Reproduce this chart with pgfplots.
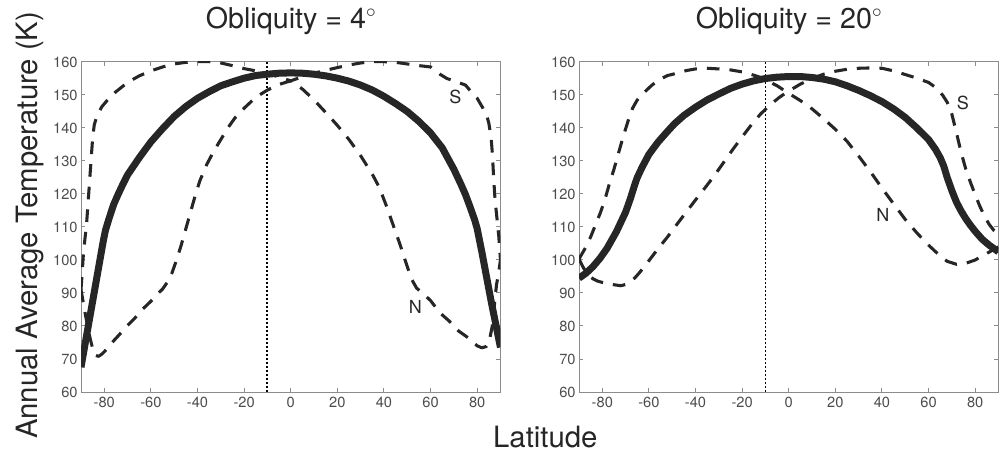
\documentclass[border=0pt]{standalone}
\usepackage{fontspec}
\setmainfont{TeX Gyre Heros}
\usepackage{pgfplots}
\pgfplotsset{compat=1.18}
\definecolor{curve}{HTML}{262626}
\definecolor{axgray}{HTML}{8C8C8C}
\definecolor{tickgray}{HTML}{4D4D4D}
\newcommand{\dg}{\raisebox{0.75ex}{$\scriptstyle\circ$}}
\tikzset{lab/.style={font=\fontsize{13.5}{16}\selectfont, text=curve}}
\pgfplotsset{
 panel/.style={
  scale only axis, width=314.6pt, height=247.5pt,
  xmin=-90, xmax=90, ymin=60, ymax=160,
  xtick={-80,-60,...,80}, ytick={60,70,...,160},
  tick align=inside, major tick length=3pt,
  axis line style={axgray, line width=0.75pt},
  tick style={axgray, line width=0.75pt},
  tick label style={font=\fontsize{11}{13}\selectfont, text=tickgray},
  yticklabel style={xshift=1pt},
  /pgf/number format/assume math mode=true,
  title style={font=\fontsize{21.5}{24}\selectfont, at={(0.5,1)}, anchor=base, yshift=18.75pt, text=curve},
  anchor=south west,
 },
 solidc/.style={curve, line width=5.25pt, line join=round},
 dashc/.style={curve, line width=2.3pt, dash pattern=on 9.5pt off 7.5pt, line join=round},
 dotc/.style={black, line width=1.4pt, dash pattern=on 1.5pt off 1.5pt},
}
\pgfplotstableread{
x y
-90 67.5
-88 75.5
-86 83.5
-84 91.5
-82 99.5
-80.5 105.5
-79.5 109
-78 112.5
-76 116.8
-74 120
-72 123
-70 125.8
-65 131
-60 135.8
-55 139.8
-50 143.5
-45 146.5
-40 149
-35 151
-30 152.8
-25 154
-20 155.1
-15 155.9
-10 156.3
-5 156.6
0 156.7
5 156.6
10 156.3
15 155.8
20 155.1
25 154.2
30 153
35 151.5
40 149.6
45 147.4
50 145
55 142
60 138.5
65 134
70 127.5
73 123
75 119.8
77 116
79 112
80 109.5
82 102.5
84 95
86 87.5
88 80.5
90 73.5
}\ObA
\pgfplotstableread{
x y
-90 91
-89.5 96
-89 101.5
-88.3 106.5
-87.6 111
-87 117
-86.3 124
-85.6 131
-85 137
-84.3 141
-83 144
-81 146.5
-78 149
-75 151
-70 153.8
-65 155.8
-60 157.3
-55 158.5
-50 159.4
-45 159.9
-40 160.1
-35 160.1
-30 159.7
-25 158.9
-20 158
-15 157.3
-10 156.6
-5 155.4
0 154.3
5 155.5
10 156.6
15 157.5
20 158.3
25 159.1
30 159.7
35 160.1
40 160.1
45 159.9
50 159.4
55 158.9
60 158.5
64 156.3
67 155
70 154.3
75 153
78 150.5
80 149
82.5 146
84 144
85 141.5
86 137
86.5 132.5
87 126
87.5 120
88 116
88.6 112
89.3 107
90 100
}\ObAS
\pgfplotstableread{
x y
-90 91
-89 87
-88 83
-87 79.5
-86 76
-85 73.2
-84 71.2
-82.5 70.8
-81 71.5
-80 72.2
-78 73.8
-76 75.5
-73 77.8
-70 80.2
-67 82.3
-64 84.8
-60 87.5
-57 89.8
-55 91.2
-53 93.2
-51 96
-49 100
-47 104.5
-45 109.5
-43 114.5
-41 119.5
-39 124
-36 129
-33 133
-30 136.5
-27 140
-24 143
-20 146
-15 149.3
-10 151.5
-5 153.2
0 154.3
5 151.8
10 148.5
15 144.7
20 140.8
25 136.5
30 131.6
35 126
38 122
41 116.5
44 110.5
47 104.5
50 98
52 94
54 91.5
57 89.7
60 87.7
64 84
68 81.5
72 78.5
76 76.5
80 74
82 73.4
84 73.8
85.5 76.5
86.5 80
87.5 87
88.3 92.5
89.2 96
90 100
}\ObAN
\pgfplotstableread{
x y
-90 94.5
-87 96
-84 98
-81 100.5
-78 103.5
-76 106
-74 108.5
-72 111.5
-70 114.5
-68 118.5
-66 123
-65 125
-63 128
-60 132
-56 135.8
-52 139
-49 141.3
-45 143.8
-40 146.3
-35 148.5
-30 150.3
-25 152
-20 153.3
-15 154.3
-10 155
-5 155.4
0 155.6
5 155.6
10 155.3
15 154.8
20 154
25 152.8
30 151.4
35 149.8
40 148
45 145.8
50 143.2
55 140
60 136.5
63 133.5
65 131
66.5 128.5
68 125
70 121
72 117.5
74 114.8
76 112.5
78 110.5
80 108.7
83 106.3
86 104.5
90 102.5
}\ObB
\pgfplotstableread{
x y
-90 100.3
-87 104
-85 107
-83 110.5
-81 114
-79 118
-77 123
-75 127.5
-73 132.5
-71 137.5
-69 142
-67 146
-65 148.5
-62 150.8
-59 152.8
-56 154.5
-52 155.9
-48 156.6
-44 157.4
-40 157.9
-35 158.1
-30 157.9
-25 157.6
-20 157
-15 156
-12 155.3
-10 154.6
-5 152.8
0 150.5
5 148.3
10 145.8
15 142.8
20 139.6
25 136
30 131.5
35 126.8
40 121.8
45 117
50 112.3
55 108.2
60 104.5
65 101.2
68 99.6
72 98.7
76 99
80 100
85 102
90 104
}\ObBN
\pgfplotstableread{
x y
-90 100.3
-88 97.5
-86 95.5
-84 94.3
-82 93.6
-80 93.2
-76 92.6
-72 92.2
-70 92.6
-68 93.5
-66 94.6
-64 96.2
-62 98
-60 99.8
-56 103.5
-52 107
-48 110.8
-44 114.5
-40 118.2
-36 121.8
-32 125.5
-28 129.5
-24 133.5
-20 137.3
-16 141
-12 144.3
-8 147
-4 149.3
0 151.2
5 153.3
10 155
15 156.3
20 157.2
25 157.8
30 158.1
35 158.2
40 158.1
45 157.3
50 156.2
55 155.1
60 153.8
63 152.3
66 150
68 147.8
70 144.2
72 138.5
74 132.5
76 127.5
78 123.5
80 119.8
82 116.3
84 113.3
86 110.8
88 109
90 107.8
}\ObBS
\begin{document}
\begin{tikzpicture}
\path[use as bounding box] (0,0) rectangle (751.5pt,345pt);
\begin{axis}[panel, at={(60.75pt,51pt)}, title={Obliquity = 4\dg}]
\addplot[dotc] coordinates {(-10,60) (-10,160)};
\addplot[dashc] table[x=x,y=y] {\ObAS};
\addplot[dashc] table[x=x,y=y] {\ObAN};
\addplot[solidc] table[x=x,y=y] {\ObA};
\node[lab] at (axis cs:70.6,149.4) {S};
\node[lab] at (axis cs:53.5,85.8) {N};
\end{axis}
\begin{axis}[panel, at={(434.25pt,51pt)}, title={Obliquity = 20\dg}]
\addplot[dotc] coordinates {(-10,60) (-10,160)};
\addplot[dashc] table[x=x,y=y] {\ObBS};
\addplot[dashc] table[x=x,y=y] {\ObBN};
\addplot[solidc] table[x=x,y=y] {\ObB};
\node[lab] at (axis cs:74.7,147.5) {S};
\node[lab] at (axis cs:40.4,113.8) {N};
\end{axis}
\node[rotate=90, anchor=base, font=\fontsize{22}{26}\selectfont, text=curve] at (28.3pt,176pt) {Annual Average Temperature (K)};
\node[anchor=base, font=\fontsize{22}{26}\selectfont, text=curve] at (409pt,9.5pt) {Latitude};
\end{tikzpicture}
\end{document}
